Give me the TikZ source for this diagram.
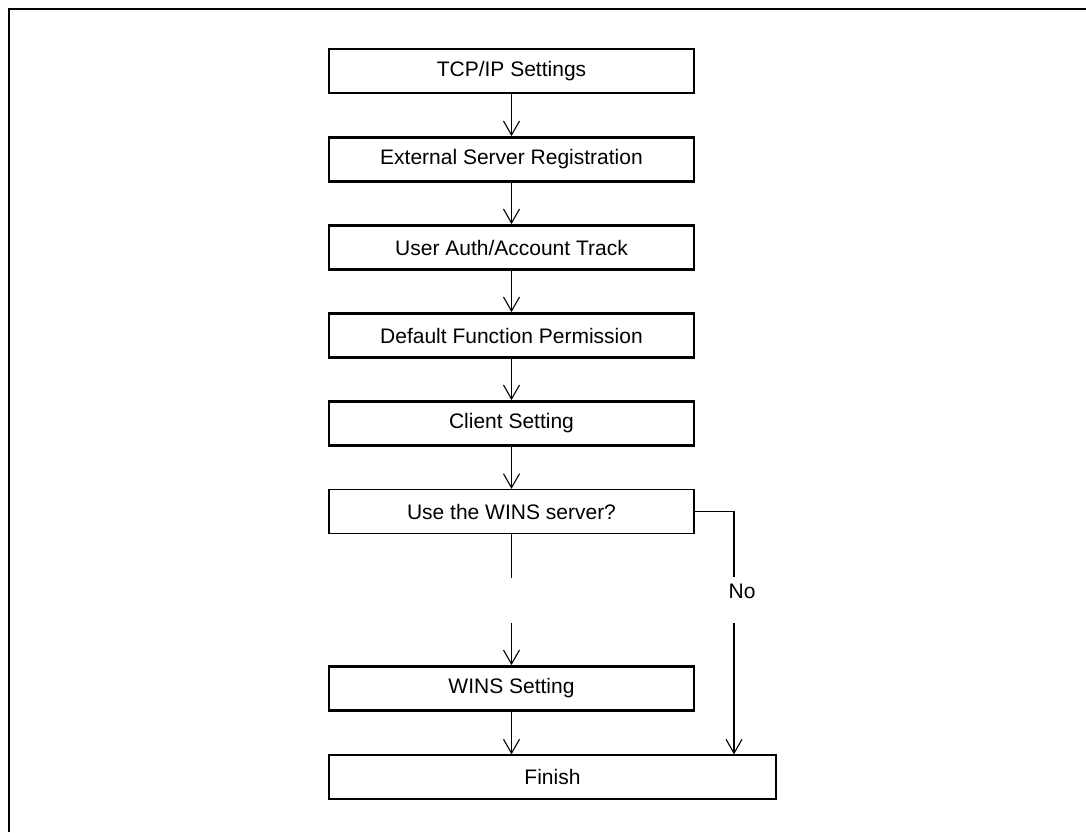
\documentclass[tikz,border=0pt]{standalone}
\usepackage{fontspec}
\setmainfont{Liberation Sans}
\usetikzlibrary{arrows.meta}
\tikzset{
  thickbox/.style={draw, line width=2.8pt, minimum width=365pt, minimum height=44pt, inner sep=0pt, font=\fontsize{21}{25}\selectfont},
  thinbox/.style={draw, line width=1.3pt, minimum width=365pt, minimum height=44pt, inner sep=0pt, font=\fontsize{21}{25}\selectfont},
  conn/.style={line width=1.1pt},
  arr/.style={conn, -{Straight Barb[length=14pt, width=16pt, line width=1.1pt]}},
  lbl/.style={inner sep=0pt, font=\fontsize{21}{25}\selectfont}
}
\begin{document}
\begin{tikzpicture}[x=1pt, y=-1pt]
\useasboundingbox (0,0) rectangle (1086,832);
% frame
\draw[line width=2.5pt] (9,832) -- (9,9) -- (1086,9);
% nodes
\node[thickbox] (tcp) at (511.5,71) {TCP/IP Settings};
\node[thickbox] (ext) at (511.5,159.5) {External Server Registration};
\node[thickbox] (auth) at (511.5,247.5) {User Auth/Account Track};
\node[thickbox] (perm) at (511.5,335.5) {Default Function Permission};
\node[thickbox] (client) at (511.5,423.5) {Client Setting};
\node[thinbox] (use) at (511.5,511.5) {Use the WINS server?};
\node[thickbox] (wins) at (511.5,688.5) {WINS Setting};
\node[thinbox, minimum width=447pt] (finish) at (552.5,777) {Finish};
\node[lbl] (no) at (742,591) {No};
\coordinate (l1) at (511.5,578);
\coordinate (l2) at (511.5,623);
\coordinate (r1) at (734,577);
\coordinate (r2) at (734,623);
% connectors
\draw[arr] (tcp.south) -- (ext.north);
\draw[arr] (ext.south) -- (auth.north);
\draw[arr] (auth.south) -- (perm.north);
\draw[arr] (perm.south) -- (client.north);
\draw[arr] (client.south) -- (use.north);
\draw[conn] (use.south) -- (l1);
\draw[arr] (l2) -- (wins.north);
\draw[arr] (wins.south) -- (wins.south |- finish.north);
\draw[conn] (use.east) -| (r1);
\draw[arr] (r2) -- (r2 |- finish.north);
\end{tikzpicture}
\end{document}
